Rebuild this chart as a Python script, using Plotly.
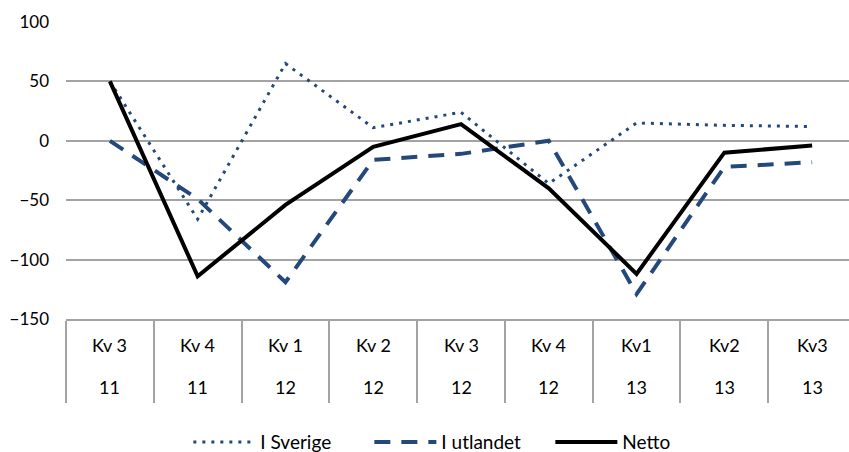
import plotly.graph_objects as go

quarters = ["Kv 3", "Kv 4", "Kv 1", "Kv 2", "Kv 3", "Kv 4", "Kv1", "Kv2", "Kv3"]
years = ["11", "11", "12", "12", "12", "12", "13", "13", "13"]

i_sverige = [50, -66, 65, 11, 24, -36, 15, 13, 12]
i_utlandet = [0, -49, -119, -16, -11, 0, -129, -22, -18]
netto = [50, -114, -54, -5, 14, -40, -112, -10, -4]

FONT = "Lato, 'Noto Sans', Arial, sans-serif"
BLUE = "#24487A"
GRID = "#A3A3A3"

x = list(range(len(quarters)))

fig = go.Figure()
fig.add_trace(go.Scatter(x=x, y=i_sverige, name="I Sverige", mode="lines",
                         line=dict(color=BLUE, width=3, dash="3px,6px")))
fig.add_trace(go.Scatter(x=x, y=i_utlandet, name="I utlandet", mode="lines",
                         line=dict(color=BLUE, width=4, dash="16px,11px")))
fig.add_trace(go.Scatter(x=x, y=netto, name="Netto", mode="lines",
                         line=dict(color="black", width=4)))

for i, (q, yr) in enumerate(zip(quarters, years)):
    fig.add_annotation(x=i, y=-0.088, xref="x", yref="paper", text=q,
                       showarrow=False, yanchor="middle",
                       font=dict(family=FONT, size=18, color="black"))
    fig.add_annotation(x=i, y=-0.23, xref="x", yref="paper", text=yr,
                       showarrow=False, yanchor="middle",
                       font=dict(family=FONT, size=18, color="black"))

fig.update_layout(
    width=849, height=452,
    margin=dict(l=66, r=0, t=22, b=133),
    paper_bgcolor="white", plot_bgcolor="white",
    font=dict(family=FONT, size=17, color="black"),
    showlegend=True,
    legend=dict(orientation="h", x=0.503, xanchor="center",
                yref="container", y=0.022, yanchor="middle",
                font=dict(family=FONT, size=19), itemwidth=62,
                entrywidth=104, traceorder="normal"),
    xaxis=dict(type="linear", range=[-0.5, 8.42], tickmode="array",
               tickvals=[i - 0.5 for i in x], showticklabels=False,
               ticks="outside", ticklen=82, tickwidth=1.5, tickcolor=GRID,
               showgrid=False, zeroline=False, showline=True,
               linecolor=GRID, linewidth=1.5, automargin=False),
    yaxis=dict(range=[-150, 100], tickvals=[-150, -100, -50, 0, 50, 100],
               showgrid=True, gridcolor=GRID, gridwidth=1.5,
               zeroline=False, showline=False, ticks="",
               ticklabelstandoff=16, automargin=False,
               tickfont=dict(family=FONT, size=17, color="black")),
)

fig.write_html("out.html", config={"displayModeBar": False},
               post_script="document.body.style.margin='0';document.body.style.overflow='hidden';")
